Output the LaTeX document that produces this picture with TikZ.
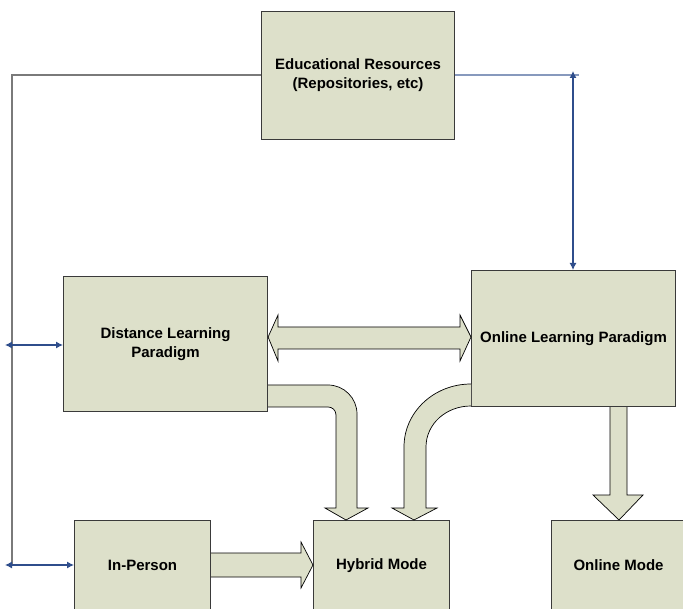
\documentclass[tikz,border=0pt]{standalone}
\usepackage{fontspec}
\setmainfont{Liberation Sans}
\usetikzlibrary{arrows.meta}
\definecolor{boxfill}{HTML}{DDE0CA}
\definecolor{boxline}{HTML}{3A3A3A}
\definecolor{greyline}{HTML}{7A7A7A}
\definecolor{bluedark}{HTML}{2F4E8C}
\definecolor{bluelight}{HTML}{8799BD}
\tikzset{
  panel/.style={draw=boxline, line width=1.1pt, fill=boxfill, anchor=north west,
    inner sep=0pt, align=center, font=\fontsize{15}{19}\selectfont\bfseries},
  blockarrow/.style={draw=black, line width=0.7pt, fill=boxfill, line join=miter},
  link/.style={line width=1.1pt},
  tip/.style={{Latex[length=7pt,width=7pt]}-{Latex[length=7pt,width=7pt]}}
}
\begin{document}
\begin{tikzpicture}[x=1pt,y=-1pt]
\useasboundingbox (0,0) rectangle (683,609);
\clip (0,0) rectangle (683,609);

% panels
\node[panel, minimum width=193pt, minimum height=128pt] (edu) at (261,11)
  {Educational Resources\\(Repositories, etc)};
\node[panel, minimum width=204pt, minimum height=135pt] (dl) at (63,276)
  {Distance Learning\\Paradigm};
\node[panel, minimum width=204pt, minimum height=136pt] (ol) at (471,270)
  {Online Learning Paradigm};
\node[panel, minimum width=136pt, minimum height=90pt] (ip) at (74,520) {In-Person};
\node[panel, minimum width=136pt, minimum height=90pt] (hy) at (313,520) {Hybrid Mode};
\node[panel, minimum width=140pt, minimum height=90pt] (om) at (551,520) {\hspace*{-6pt}Online Mode};

% grey feed line from the resources panel down the left side
\coordinate (lcorner) at (12,75);
\coordinate (lbottom) at (12,565);
\draw[greyline, line width=1.5pt] (edu.west |- 0,75) -- (lcorner) -- (lbottom);

% blue links on the left
\coordinate (ldl) at (5,345);
\coordinate (lip) at (5,565);
\draw[bluedark, link, tip] (ldl) -- (dl.west |- ldl);
\draw[bluedark, link, tip] (lip) -- (ip.west |- lip);

% blue links on the right
\coordinate (rend) at (579,75);
\coordinate (rtop) at (573,71);
\draw[bluelight, line width=1.6pt] (edu.east |- 0,75) -- (rend);
\draw[bluedark, link, tip] (rtop) -- (ol.north west -| rtop);

% double block arrow between the two paradigms
\draw[blockarrow] (dl.east |- 0,337)
  -- (278,315) -- (278,327) -- (460,327) -- (460,315)
  -- (ol.west |- 0,337)
  -- (460,361) -- (460,349) -- (278,349) -- (278,361) -- cycle;

% bent arrow: distance learning -> hybrid
\draw[blockarrow] (dl.east |- 0,385) -- (328,385)
  .. controls (344,385) and (357,398) .. (357,414)
  -- (357,508) -- (368,508) -- (hy.north -| 346,0) -- (325,508) -- (336,508)
  -- (336,415) .. controls (336,410) and (332,407) .. (328,407)
  -- (dl.east |- 0,407);

% bent arrow: online learning -> hybrid
\draw[blockarrow] (ol.west |- 0,384)
  .. controls (434,384) and (404,412) .. (404,447)
  -- (404,508) -- (392,508) -- (hy.north -| 414,0) -- (437,508) -- (426,508)
  -- (426,447) .. controls (426,424) and (446,406) .. (ol.west |- 0,406);

% straight arrow: online learning -> online mode
\draw[blockarrow] (ol.south -| 610,0) -- (610,495) -- (593,495)
  -- (om.north -| 619,0) -- (643,495) -- (627,495) -- (ol.south -| 627,0);

% straight arrow: in-person -> hybrid
\draw[blockarrow] (ip.east |- 0,553) -- (301,553) -- (301,542)
  -- (hy.west |- 0,565) -- (301,588) -- (301,577) -- (ip.east |- 0,577);
\end{tikzpicture}
\end{document}
